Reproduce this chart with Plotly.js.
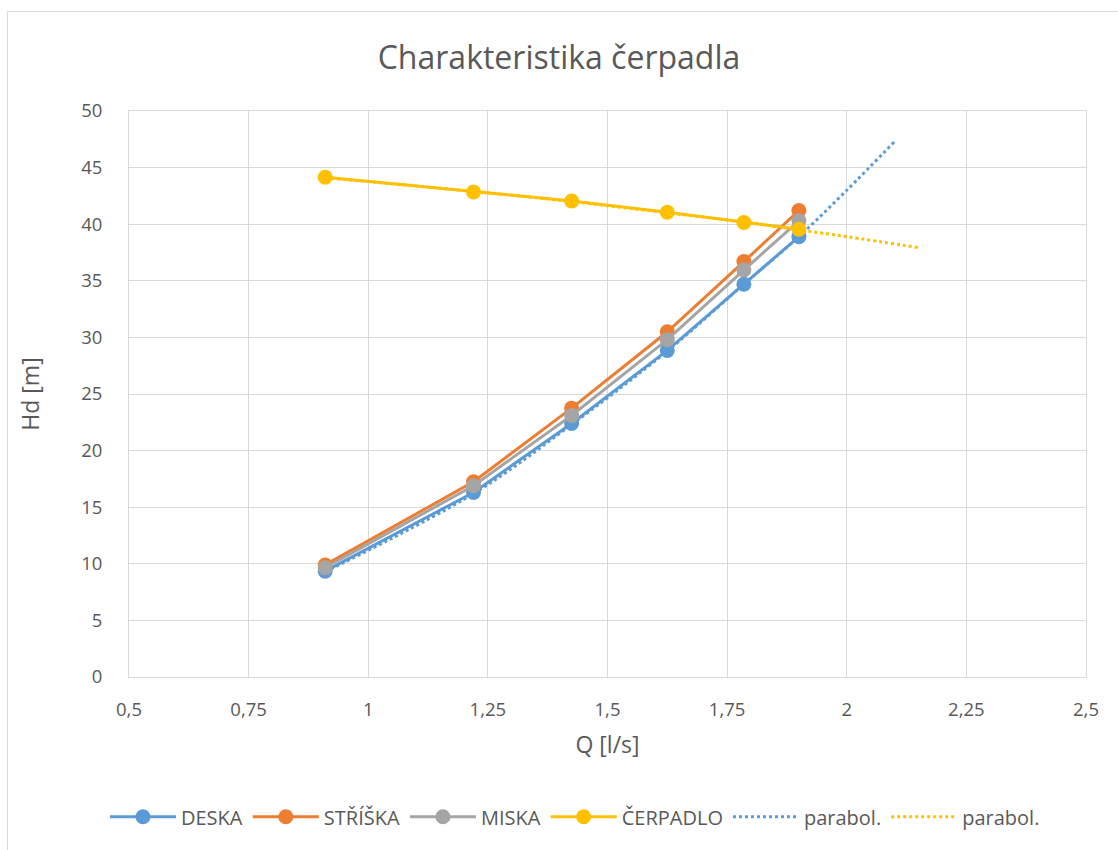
<!DOCTYPE html>
<html>
<head>
<meta charset="utf-8">
<script src="https://cdn.plot.ly/plotly-3.0.1.min.js"></script>
<style>
html,body{margin:0;padding:0;background:#fff;}
#chart{width:1118px;height:850px;position:absolute;left:0;top:0;}
#frame{position:absolute;left:7px;top:11px;width:1120px;height:850px;border:1px solid #d9d9d9;pointer-events:none;}
</style>
</head>
<body>
<div id="chart"></div>
<div id="frame"></div>
<script>
// Data
const Q = [0.91, 1.22, 1.425, 1.625, 1.785, 1.90];
const deska   = [9.35, 16.3, 22.4, 28.85, 34.7, 38.9];
const striska = [9.9, 17.25, 23.75, 30.5, 36.7, 41.2];
const miska   = [9.65, 16.9, 23.1, 29.8, 35.95, 40.3];
const cerpadlo = [44.15, 42.85, 42.05, 41.05, 40.15, 39.55];

// Trendline ("parabol.") points
const parabQ1 = [0.91, 1.22, 1.425, 1.625, 1.785, 1.90, 2.0, 2.1];
const parabH1 = [9.3, 16.2, 22.3, 28.8, 34.7, 38.9, 43.0, 47.3];
const parabQ2 = [0.91, 1.22, 1.425, 1.625, 1.785, 1.90, 2.0, 2.155];
const parabH2 = [44.1, 42.9, 42.0, 41.0, 40.2, 39.5, 38.9, 37.9];

const xTickVals = [0.5, 0.75, 1, 1.25, 1.5, 1.75, 2, 2.25, 2.5];
const xTickText = ['0,5', '0,75', '1', '1,25', '1,5', '1,75', '2', '2,25', '2,5'];
const yTickVals = [0, 5, 10, 15, 20, 25, 30, 35, 40, 45, 50];

const names = ['DESKA', 'STŘÍŠKA', 'MISKA', 'ČERPADLO', 'parabol.', 'parabol.'];
const colors = ['#5b9bd5', '#ed7d31', '#a5a5a5', '#ffc000'];

function series(y, i) {
  return {x: Q, y: y, name: names[i], type: 'scatter', mode: 'lines+markers',
    line: {color: colors[i], width: 3}, marker: {color: colors[i], size: 15}};
}
const traces = [
  {x: parabQ1, y: parabH1, name: names[4], type: 'scatter', mode: 'lines', showlegend: false,
   line: {color: colors[0], width: 3, dash: 'dot', shape: 'spline'}},
  {x: parabQ2, y: parabH2, name: names[5], type: 'scatter', mode: 'lines', showlegend: false,
   line: {color: colors[3], width: 3, dash: 'dot', shape: 'spline'}},
  series(deska, 0), series(striska, 1), series(miska, 2), series(cerpadlo, 3),
  {x: [null], y: [null], name: names[4], type: 'scatter', mode: 'lines',
   line: {color: colors[0], width: 3, dash: 'dot'}},
  {x: [null], y: [null], name: names[5], type: 'scatter', mode: 'lines',
   line: {color: colors[3], width: 3, dash: 'dot'}}
];

const font = 'Open Sans, Noto Sans, sans-serif';
const layout = {
  width: 1118, height: 850,
  margin: {l: 129, r: 32, t: 111, b: 173},
  paper_bgcolor: 'rgba(0,0,0,0)', plot_bgcolor: '#fff',
  separators: ', ',
  font: {family: font, color: '#595959', size: 18},
  title: {text: 'Charakteristika čerpadla', x: 0.5, xanchor: 'center', y: 0.932, yanchor: 'middle',
          font: {family: font, size: 32, color: '#595959'}},
  xaxis: {range: [0.5, 2.5], tickvals: xTickVals, ticktext: xTickText,
          showgrid: true, gridcolor: '#d9d9d9', gridwidth: 1, zeroline: false,
          showline: true, linecolor: '#d9d9d9', linewidth: 1, mirror: true,
          ticks: '', ticklabelstandoff: 16,
          tickfont: {size: 18.5, color: '#595959'},
          title: {text: 'Q [l/s]', font: {size: 23, color: '#595959'}, standoff: 16}},
  yaxis: {range: [0, 50], tickvals: yTickVals,
          showgrid: true, gridcolor: '#d9d9d9', gridwidth: 1, zeroline: false,
          showline: true, linecolor: '#d9d9d9', linewidth: 1, mirror: true,
          ticks: '', ticklabelstandoff: 22,
          tickfont: {size: 18.5, color: '#595959'},
          title: {text: 'Hd [m]', font: {size: 23, color: '#595959'}, standoff: 35}},
  legend: {orientation: 'h', x: 0.466, xanchor: 'center', y: -0.247, yanchor: 'middle',
           font: {size: 20, color: '#595959'}, itemwidth: 66, tracegroupgap: 0,
           traceorder: 'normal'},
  showlegend: true
};
Plotly.newPlot('chart', traces, layout, {displayModeBar: false, staticPlot: true});
</script>
</body>
</html>
